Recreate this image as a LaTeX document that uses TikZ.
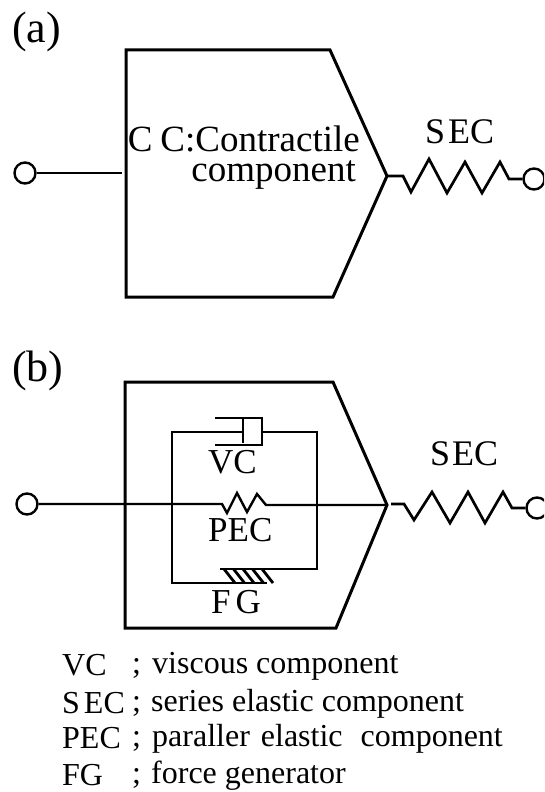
\documentclass[tikz,border=0pt]{standalone}
\usepackage{fontspec}
\setmainfont{Liberation Serif}
\begin{document}
\begin{tikzpicture}[x=1pt,y=-1pt,
  wire/.style={line width=3pt,line join=miter,miter limit=10},
  spring/.style={line width=2.7pt,line join=miter},
  thinwire/.style={line width=2.4pt,line join=miter},
  term/.style={circle,draw,line width=2.4pt,minimum size=21pt,inner sep=0pt,fill=white},
  lab/.style={inner sep=0pt,font=\fontsize{36}{36}\selectfont},
  big/.style={inner sep=0pt,anchor=base west,font=\fontsize{44}{44}\selectfont},
  leg/.style={inner sep=0pt,anchor=base west,font=\fontsize{32}{32}\selectfont}]
\useasboundingbox (0,0) rectangle (544,792);
\fill[white] (0,0) rectangle (544,792);
\clip (0,0) rectangle (544,792);
% (a)
\node[big] (la) at (12,43) {(a)};
\coordinate (aA) at (387,176);
\draw[wire] (126,50) -- (330,50) -- (aA) -- (333,297) -- (126,297) -- cycle;
\node[term] (t1) at (25,173) {};
\coordinate (aL) at (122,173);
\draw[thinwire] (t1) -- (aL);
\node[term] (t2) at (534,179) {};
\draw[spring] (aA) -- (403,176) -- (411,192) -- (429,159) -- (447,193) -- (465,162) -- (482,193) -- (500,162) -- (509,179) -- (t2);
\node[lab,anchor=south east,align=right,font=\fontsize{37}{30}\selectfont] (ca) at (360,190) {C\kern8pt C:Contractile\\component\kern4pt};
\node[lab,anchor=base west] (sa) at (425,143) {S\kern3pt EC};
% (b)
\node[big] (lb) at (12,381) {(b)};
\coordinate (bA) at (387,505);
\draw[wire] (125,382) -- (333,382) -- (bA) -- (336,628) -- (125,628) -- cycle;
\node[term] (t3) at (27,504) {};
\draw[thinwire] (t3) -- (222,504) -- (227,513) -- (237,493) -- (247,512) -- (257,494) -- (266,505) -- (bA);
\node[term] (t4) at (537,508) {};
\coordinate (bS) at (391,504);
\draw[spring] (bS) -- (404,504) -- (414,520) -- (432,492) -- (450,523) -- (468,492) -- (485,523) -- (503,492) -- (512,508) -- (t4);
\node[lab,anchor=base west] (sb) at (430,465) {S\kern2pt EC};
% inner circuit
\coordinate (dR) at (262,432);
\coordinate (dP) at (243,432);
\draw[thinwire] (dP) -- (172,432) -- (172,583) -- (267,583);
\draw[thinwire] (dR) -- (317,432) -- (317,569) -- (220,569);
\draw[thinwire] (215,418) -- (262,418) -- (262,445) -- (215,445);
\draw[thinwire] (243,418) -- (243,443);
\foreach \x in {0,1,2,3,4}
  \draw[line width=2.8pt] ({224+\x*9.5},569) -- ({235+\x*9.5},583);
\node[lab,anchor=base west,font=\fontsize{35}{35}\selectfont] (vc) at (208,473) {VC};
\node[lab,anchor=base west,font=\fontsize{35}{35}\selectfont] (pc) at (208,541) {PEC};
\node[lab,anchor=base west,font=\fontsize{35}{35}\selectfont] (fg) at (211,613) {F\kern5pt G};
% legend
\node[leg] (l1a) at (62,675) {VC};
\node[leg] (l1b) at (132,673) {;};
\node[leg] (l1c) at (152,673) {viscous component};
\node[leg] (l2a) at (62,713) {S\kern4pt EC};
\node[leg] (l2b) at (132,711) {;};
\node[leg] (l2c) at (151,711) {series elastic component};
\node[leg] (l3a) at (62,748) {PEC};
\node[leg] (l3b) at (132,746) {;};
\node[leg] (l3c) at (152,746) {paraller\kern11pt elastic\kern10pt\ component};
\node[leg] (l4a) at (62,785) {FG};
\node[leg] (l4b) at (132,783) {;};
\node[leg] (l4c) at (151,783) {force generator};
\end{tikzpicture}
\end{document}
